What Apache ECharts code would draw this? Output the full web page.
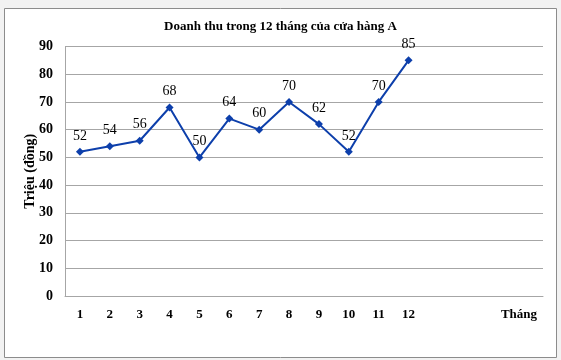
<!DOCTYPE html>
<html>
<head>
<meta charset="utf-8">
<script src="https://cdn.jsdelivr.net/npm/echarts@6/dist/echarts.min.js"></script>
<style>
html,body{margin:0;padding:0;background:#f2f2f2;}
#c{width:561px;height:360px;}
</style>
</head>
<body>
<div id="c"></div>
<script>
const title = 'Doanh thu trong 12 tháng của cửa hàng A';
const months = ['1','2','3','4','5','6','7','8','9','10','11','12'];
const padSlots = ['','','',''];
const revenue = [52,54,56,68,50,64,60,70,62,52,70,85];
const yTicks = {min:0, max:90, interval:10};
const yName = 'Triệu (đồng)';
const xName = 'Tháng';

const serif = '"Liberation Serif","DejaVu Serif",serif';
const chart = echarts.init(document.getElementById('c'), null, {renderer:'canvas'});
chart.setOption({
  backgroundColor: '#f2f2f2',
  animation: false,
  graphic: [{
    type:'rect', left:4, top:8, z:-10,
    shape:{width:552, height:349},
    style:{fill:'#ffffff', stroke:'#8c8c8c', lineWidth:1}
  }],
  title: {
    text: title, left: 'center', top: 15,
    textStyle: {fontFamily: serif, fontWeight:'bold', fontSize:13, color:'#000'}
  },
  grid: {left:65, right:18, top:46.5, bottom:64},
  xAxis: {
    type:'category',
    data: months.concat(padSlots),
    boundaryGap: true,
    axisLine:{lineStyle:{color:'#a6a6a6'}},
    axisTick:{show:false},
    axisLabel:{fontFamily:serif, fontWeight:'bold', fontSize:13, color:'#000', margin:12},
    name: xName,
    nameLocation:'end',
    nameGap:-24,
    nameTextStyle:{fontFamily:serif, fontWeight:'bold', fontSize:13, color:'#000', align:'center', verticalAlign:'top', padding:[12,0,0,0]}
  },
  yAxis: {
    type:'value', min:yTicks.min, max:yTicks.max, interval:yTicks.interval,
    axisLine:{show:true, lineStyle:{color:'#a6a6a6'}},
    axisTick:{show:false},
    splitLine:{lineStyle:{color:'#a6a6a6'}},
    axisLabel:{fontFamily:serif, fontWeight:'bold', fontSize:14, color:'#000', margin:12},
    name: yName,
    nameLocation:'middle',
    nameGap:28,
    nameMoveOverlap:false,
    nameTextStyle:{fontFamily:serif, fontWeight:'bold', fontSize:14, color:'#000'}
  },
  series: [{
    type:'line',
    data: revenue,
    symbol:'diamond',
    symbolSize:8,
    lineStyle:{color:'#0d3fab', width:2},
    itemStyle:{color:'#0d3fab'},
    label:{show:true, position:'top', distance:5, fontFamily:serif, fontSize:14, color:'#000'}
  }]
});
</script>
</body>
</html>
